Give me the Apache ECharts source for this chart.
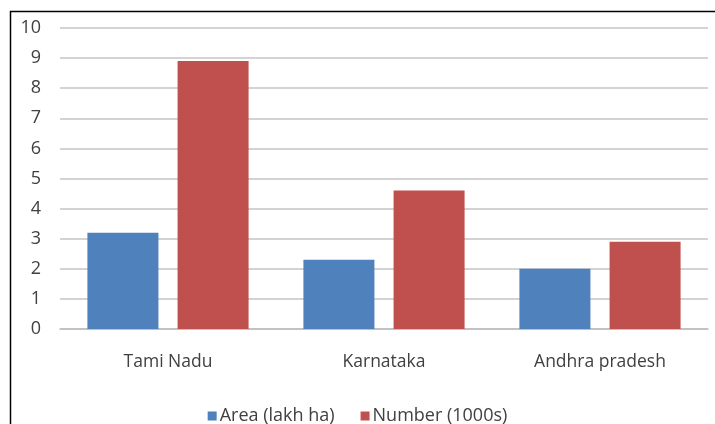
<!DOCTYPE html>
<html>
<head>
<meta charset="utf-8">
<script src="https://cdn.jsdelivr.net/npm/echarts@6/dist/echarts.min.js"></script>
<style>
  html, body { margin: 0; padding: 0; background: #fff; }
  #chart { width: 715px; height: 424px; }
</style>
</head>
<body>
<div id="chart"></div>
<script>
// data
var states = ['Tami Nadu', 'Karnataka', 'Andhra pradesh'];
var areaLakhHa = [3.2, 2.3, 2.0];
var number1000s = [8.9, 4.6, 2.9];
var seriesNames = ['Area (lakh ha)', 'Number (1000s)'];

var chart = echarts.init(document.getElementById('chart'));

var textFont = 'Open Sans';
var textColor = '#404040';

var option = {
    animation: false,
    backgroundColor: '#fff',
    graphic: [{
        type: 'rect',
        shape: { x: 10.5, y: 11.5, width: 720, height: 430 },
        style: { fill: 'none', stroke: '#000', lineWidth: 1.5 },
        silent: true
    }],
    grid: {
        left: 60,
        right: 7,
        top: 28,
        bottom: 95
    },
    legend: {
        top: 402,
        left: 'center',
        itemWidth: 9,
        itemHeight: 9,
        itemGap: 26,
        icon: 'rect',
        textStyle: { fontFamily: textFont, fontSize: 18, color: textColor, padding: [0, 0, 0, -2] },
        data: seriesNames
    },
    xAxis: {
        type: 'category',
        data: states,
        axisLine: { lineStyle: { color: '#bdbdbd', width: 1.5 } },
        axisTick: { show: false },
        axisLabel: { fontFamily: textFont, fontSize: 17.5, color: textColor, margin: 24 }
    },
    yAxis: {
        type: 'value',
        min: 0,
        max: 10,
        interval: 1,
        axisLine: { show: false },
        axisTick: { show: false },
        splitLine: { lineStyle: { color: '#c4c4c4', width: 1.5 } },
        axisLabel: { fontFamily: textFont, fontSize: 18, color: textColor, margin: 19 }
    },
    series: [{
        name: seriesNames[0],
        type: 'bar',
        data: areaLakhHa,
        barWidth: 71,
        barGap: '27%',
        itemStyle: { color: '#4f81bd' }
    }, {
        name: seriesNames[1],
        type: 'bar',
        data: number1000s,
        barWidth: 71,
        itemStyle: { color: '#c0504d' }
    }]
};

chart.setOption(option);
</script>
</body>
</html>
